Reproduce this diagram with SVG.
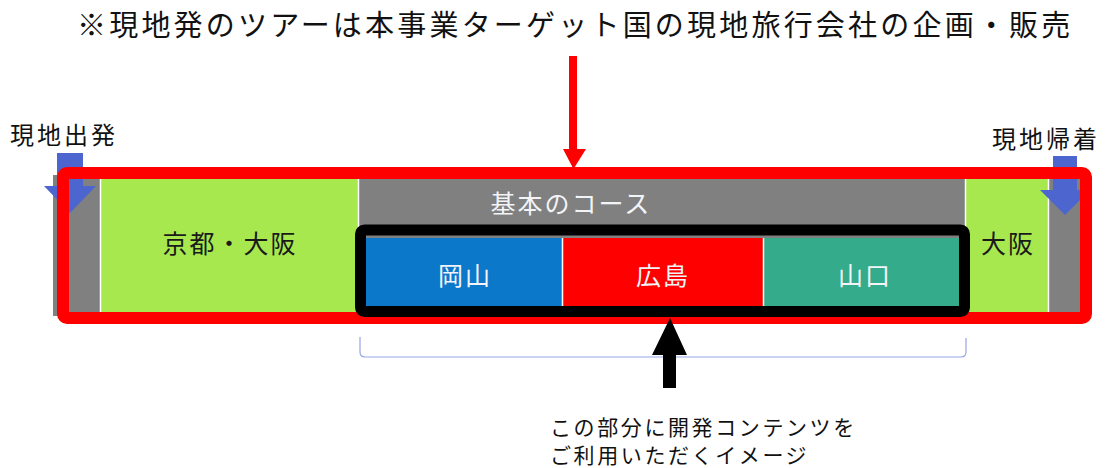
<svg xmlns="http://www.w3.org/2000/svg" width="1110" height="468" viewBox="0 0 1110 468">
  <style>
    text { font-family: "Noto Sans CJK JP", "Noto Sans", sans-serif; }
    .title { font-size: 29px; fill: #111; letter-spacing: 3.2px; }
    .side { font-size: 24px; fill: #111; letter-spacing: 3px; }
    .dark { font-size: 25px; fill: #1a1a1a; letter-spacing: 2px; text-anchor: middle; }
    .light { font-size: 25px; fill: #f2f4f8; letter-spacing: 2px; text-anchor: middle; }
    .note { font-size: 21px; fill: #111; letter-spacing: 2.6px; }
    .bluearrow { fill: #4c65cf; }
    .sep { stroke: #ffffff; stroke-width: 1.5; }
  </style>

  <g id="title">
    <text class="title" x="77" y="36">※現地発のツアーは本事業ターゲット国の現地旅行会社の企画・販売</text>
  </g>

  <g id="base-bar">
    <rect x="53" y="175" width="1032" height="141" fill="#808080"/>
  </g>

  <g id="kyoto-osaka">
    <rect x="101" y="175" width="257" height="141" fill="#a8e84f"/>
    <line class="sep" x1="100.5" y1="175" x2="100.5" y2="316"/>
    <line class="sep" x1="358.5" y1="175" x2="358.5" y2="316"/>
    <text class="dark" x="230" y="253">京都・大阪</text>
  </g>

  <g id="basic-course">
    <text class="light" x="571" y="213">基本のコース</text>
  </g>

  <g id="osaka">
    <rect x="966" y="175" width="82" height="141" fill="#a8e84f"/>
    <line class="sep" x1="965.5" y1="175" x2="965.5" y2="316"/>
    <line class="sep" x1="1048.5" y1="175" x2="1048.5" y2="316"/>
    <text class="dark" x="1008" y="253">大阪</text>
  </g>

  <g id="depart">
    <text class="side" x="10" y="144">現地出発</text>
    <polygon class="bluearrow" points="57,153 83,153 83,186 96,186 70,213 44,186 57,186"/>
  </g>

  <g id="return">
    <text class="side" x="992" y="148">現地帰着</text>
    <polygon class="bluearrow" points="1053,156 1077,156 1077,190 1090,190 1065,215 1040,190 1053,190"/>
  </g>

  <g id="local-frame">
    <rect x="63" y="173" width="1023" height="145" rx="4" fill="none" stroke="#ff0000" stroke-width="12"/>
  </g>

  <g id="okayama">
    <rect x="366" y="238" width="196" height="68" fill="#0c78ca"/>
    <text class="light" x="465" y="285">岡山</text>
  </g>
  <g id="hiroshima">
    <rect x="563" y="238" width="200" height="68" fill="#ff0000"/>
    <text class="light" x="663" y="285">広島</text>
  </g>
  <g id="yamaguchi">
    <rect x="764" y="238" width="195" height="68" fill="#34ab8a"/>
    <text class="light" x="865" y="285">山口</text>
  </g>
  <g id="dev-frame">
    <line class="sep" x1="562.5" y1="238" x2="562.5" y2="306" stroke-width="1.2"/>
    <line class="sep" x1="763.5" y1="238" x2="763.5" y2="306" stroke-width="1.2"/>
    <rect x="360.5" y="230" width="604" height="81.5" rx="4" fill="none" stroke="#000000" stroke-width="11"/>
  </g>

  <g id="connectors">
    <path d="M360,337 L360,352 Q360,357 365,357 L961,357 Q966,357 966,352 L966,338" fill="none" stroke="#93a6e2" stroke-width="1.2"/>
    <polygon points="569,56 577,56 577,149 586,149 573.5,169 563,149 569,149" fill="#ff0000"/>
    <polygon points="670,318 687,355 676,355 676,388 663,388 663,355 652,355" fill="#000000"/>
  </g>

  <g id="note">
    <text class="note" x="550" y="435">この部分に開発コンテンツを</text>
    <text class="note" x="550" y="463">ご利用いただくイメージ</text>
  </g>
</svg>
